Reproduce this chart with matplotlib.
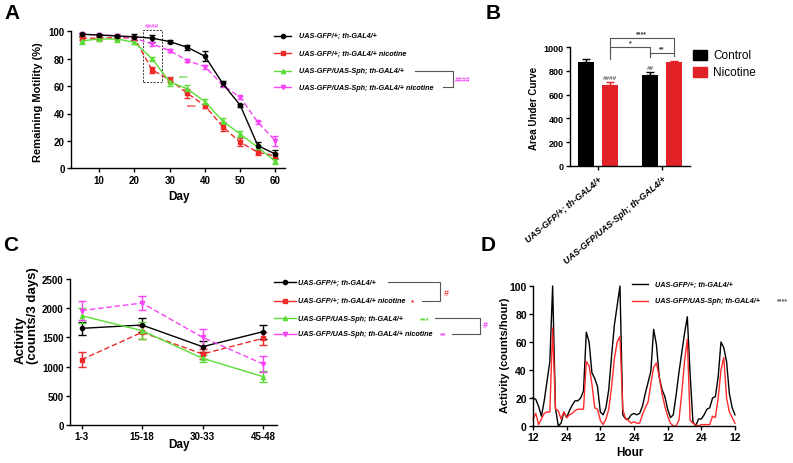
import numpy as np
import matplotlib
matplotlib.use('Agg')
import matplotlib.pyplot as plt
from matplotlib.lines import Line2D
from matplotlib.patches import Rectangle

plt.rcParams['font.family'] = ['Liberation Sans', 'DejaVu Sans']
plt.rcParams['font.weight'] = 'bold'
plt.rcParams['axes.labelweight'] = 'bold'

W, H = 793, 464

c_black = '#000000'
c_red = '#ee2a2a'
c_green = '#5cdc38'
c_mag = '#f545f5'
c_gray = '#555555'

g_ctrl = 'UAS-GFP/+; th-GAL4/+'
g_ctrl_nic = 'UAS-GFP/+; th-GAL4/+ nicotine'
g_sph = 'UAS-GFP/UAS-Sph; th-GAL4/+'
g_sph_nic = 'UAS-GFP/UAS-Sph; th-GAL4/+ nicotine'

# ---- A: remaining motility
days = [5, 10, 15, 20, 25, 30, 35, 40, 45, 50, 55, 60]
mot_ctrl = [97.8, 97.3, 96.6, 96.0, 95.0, 92.5, 88.3, 81.8, 62.0, 46.0, 16.5, 10.4]
mot_ctrl_err = [1.0, 1.0, 1.0, 2.0, 2.5, 1.0, 2.0, 3.5, 2.0, 1.0, 3.0, 3.0]
mot_nic = [95.0, 95.0, 95.4, 95.0, 71.8, 64.7, 54.7, 45.7, 30.4, 19.0, 11.7, 9.0]
mot_nic_err = [1.0, 1.0, 1.0, 1.0, 2.0, 2.0, 3.5, 1.5, 3.5, 3.0, 2.0, 2.0]
mot_sph = [93.0, 94.4, 94.4, 92.0, 80.0, 63.0, 58.0, 48.7, 34.5, 25.0, 15.3, 5.0]
mot_sph_err = [2.5, 1.5, 2.0, 1.5, 1.0, 3.0, 2.5, 2.0, 2.0, 2.5, 2.0, 2.0]
mot_sph_nic = [98.0, 97.3, 96.8, 95.0, 90.8, 85.9, 78.6, 74.2, 60.8, 51.8, 33.6, 20.0]
mot_sph_nic_err = [1.0, 1.0, 1.0, 1.0, 1.5, 1.0, 1.0, 1.5, 1.5, 1.0, 1.0, 3.5]

# ---- B: area under curve
auc_groups = [g_ctrl, g_sph]
auc_ctrl = [875, 765]
auc_ctrl_err = [25, 25]
auc_nic = [680, 870]
auc_nic_err = [30, 15]

# ---- C: activity per 3 days
day_bins = ['1-3', '15-18', '30-33', '45-48']
act3_ctrl = [1655, 1712, 1341, 1598]
act3_ctrl_err = [110, 120, 90, 120]
act3_nic = [1119, 1587, 1216, 1484]
act3_nic_err = [130, 110, 80, 110]
act3_sph = [1872, 1615, 1142, 828]
act3_sph_err = [130, 150, 60, 100]
act3_sph_nic = [1958, 2089, 1501, 1045]
act3_sph_nic_err = [160, 120, 140, 130]

# ---- D: hourly activity
hours = list(range(12, 85))
hour_ticks = [12, 24, 36, 48, 60, 72, 84]
hour_labels = ['12', '24', '12', '24', '12', '24', '12']
act_ctrl = [20, 19, 14, 7, 18, 32, 46, 100, 13, 0,
            2, 10, 6, 11, 15, 18, 18, 20, 25, 67,
            60, 38, 34, 28, 10, 8, 13, 26, 50, 72,
            86, 100, 8, 5, 5, 8, 9, 8, 9, 14,
            23, 31, 39, 69, 58, 35, 26, 21, 12, 6,
            8, 22, 38, 52, 66, 78, 37, 3, 0, 5,
            5, 8, 12, 13, 20, 21, 35, 60, 56, 46,
            23, 13, 8]
act_sph = [5, 9, 1, 5, 9, 10, 10, 70, 12, 11,
           5, 10, 6, 8, 9, 11, 12, 12, 12, 46,
           43, 30, 13, 12, 4, 1, 5, 12, 28, 48,
           60, 64, 12, 5, 4, 2, 3, 2, 2, 8,
           13, 17, 30, 42, 45, 35, 23, 14, 7, 2,
           0, 0, 4, 23, 46, 62, 4, 2, 1, 0,
           1, 1, 1, 1, 7, 6, 20, 40, 49, 20,
           10, 6, 2]


def fx(x):
    return x / W


def fy(y):
    return 1 - y / H


def add_axes_px(fig, left, top, right, bottom):
    return fig.add_axes([fx(left), fy(bottom), (right - left) / W, (bottom - top) / H])


def prism(ax, size=7):
    for s in ['top', 'right']:
        ax.spines[s].set_visible(False)
    for s in ['left', 'bottom']:
        ax.spines[s].set_linewidth(1.0)
    ax.tick_params(width=1.0, length=3, labelsize=size, pad=1.5)


def key_row(fig, x0, x1, y, color, marker, ls, label, tx, fs=5.2):
    yy = fy(y)
    fig.add_artist(Line2D([fx(x0), fx(x1)], [yy, yy], color=color, ls=ls, lw=1.0))
    if marker:
        fig.add_artist(Line2D([fx((x0 + x1) / 2)], [yy], color=color, marker=marker, ms=3, ls='none'))
    fig.text(fx(tx), yy, label, fontsize=fs, style='italic', weight='bold', va='center', ha='left')


def bracket(fig, xa, xb, xr, ya, yb, color=c_gray):
    fig.add_artist(Line2D([fx(xa), fx(xr), fx(xr), fx(xb)], [fy(ya), fy(ya), fy(yb), fy(yb)],
                          color=color, lw=0.8))


fig = plt.figure(figsize=(W / 100, H / 100), dpi=100)

series_a = [
    (mot_nic, mot_nic_err, c_red, 's', (0, (4, 2))),
    (mot_sph, mot_sph_err, c_green, '^', '-'),
    (mot_sph_nic, mot_sph_nic_err, c_mag, 'v', (0, (4, 2))),
    (mot_ctrl, mot_ctrl_err, c_black, 'o', '-'),
]

# ---------------- A
ax = add_axes_px(fig, 71, 32.3, 285, 169.3)
for vals, err, col, mk, ls in series_a:
    ax.errorbar(days, vals, yerr=err, color=col, marker=mk, ms=3, ls=ls, lw=1.0,
                elinewidth=1.0, capsize=2.5, capthick=1.0, clip_on=False)
ax.set_xlim(2, 62.7)
ax.set_ylim(0, 100)
ax.set_xticks([10, 20, 30, 40, 50, 60])
ax.set_yticks([0, 20, 40, 60, 80, 100])
prism(ax)
ax.add_patch(Rectangle((22.3, 63.2), 5.4, 38, fill=False, ls=(0, (2, 1.5)), lw=0.7,
                       ec='#333333', clip_on=False))
ax.text(25, 104, '####', color=c_mag, fontsize=4.5, ha='center', va='center', style='italic')
ax.text(34, 66.5, '****', color=c_green, fontsize=4.5, ha='center', va='center')
ax.text(36.3, 45.5, '****', color=c_red, fontsize=4.5, ha='center', va='center')
fig.text(fx(38), fy(102), 'Remaining Motility (%)', rotation=90, ha='center', va='center', fontsize=8)
fig.text(fx(179), fy(197), 'Day', ha='center', va='center', fontsize=8.5)

rows_a = [36.7, 54.3, 71.7, 88.3]
key_row(fig, 274, 291, rows_a[0], c_black, 'o', '-', g_ctrl, 299)
key_row(fig, 274, 291, rows_a[1], c_red, 's', '-', g_ctrl_nic, 299)
key_row(fig, 274, 291, rows_a[2], c_green, '^', '-', g_sph, 299)
key_row(fig, 274, 291, rows_a[3], c_mag, 'v', '-', g_sph_nic, 299)
bracket(fig, 415, 443, 453, rows_a[2], rows_a[3])
fig.text(fx(455), fy(80.7), '####', color=c_mag, fontsize=5, va='center', style='italic')

# ---------------- B
ax = add_axes_px(fig, 570, 48, 690, 167)
xg = np.arange(len(auc_groups))
bw = 0.25
off = 0.1875
ax.bar(xg - off, auc_ctrl, bw, color=c_black)
ax.bar(xg + off, auc_nic, bw, color='#e32228')
ax.errorbar(xg - off, auc_ctrl, yerr=[[0, 0], auc_ctrl_err], fmt='none', ecolor=c_black,
            elinewidth=1.0, capsize=3, capthick=1.0)
ax.errorbar(xg + off, auc_nic, yerr=[[0, 0], auc_nic_err], fmt='none', ecolor='#e32228',
            elinewidth=1.0, capsize=3, capthick=1.0)
ax.set_xlim(-0.44, 1.44)
ax.set_ylim(0, 1000)
ax.set_yticks(range(0, 1001, 200))
ax.set_xticks(xg)
ax.set_xticklabels(auc_groups, rotation=40, ha='right', va='top', rotation_mode='anchor',
                   style='italic', fontsize=6)
prism(ax, 6.5)
ax.tick_params(axis='x', pad=3)
ax.text(0 + off, 740, '####', fontsize=4.5, color=c_gray, ha='center', va='center', style='italic')
ax.text(1 - off, 830, '##', fontsize=4.5, color=c_gray, ha='center', va='center', style='italic')


def sig(ax, x0, x1, y, yl0, yl1, label):
    ax.plot([x0, x0, x1, x1], [yl0, y, y, yl1], color=c_gray, lw=0.8, clip_on=False)
    ax.text((x0 + x1) / 2, y + 8, label, fontsize=5, ha='center', va='bottom', color='#333333')


sig(ax, off, 1 + off, 1076, 960, 960, '****')
sig(ax, off, 1 - off, 1000, 900, 920, '*')
sig(ax, 1 - off, 1 + off, 950, 920, 925, '**')
fig.text(fx(534), fy(108), 'Area Under Curve', rotation=90, ha='center', va='center', fontsize=7)

fig.add_artist(Rectangle((fx(693), fy(61)), 14 / W, 10 / H, color=c_black))
fig.add_artist(Rectangle((fx(693), fy(78)), 14 / W, 10 / H, color='#e32228'))
fig.text(fx(713), fy(56), 'Control', fontsize=8.5, weight='normal', va='center')
fig.text(fx(713), fy(73), 'Nicotine', fontsize=8.5, weight='normal', va='center')

# ---------------- C
ax = add_axes_px(fig, 70, 280, 277, 426)
xc = np.arange(len(day_bins))
series_c = [
    (act3_ctrl, act3_ctrl_err, c_black, 'o', '-'),
    (act3_nic, act3_nic_err, c_red, 's', (0, (4, 2))),
    (act3_sph, act3_sph_err, c_green, '^', '-'),
    (act3_sph_nic, act3_sph_nic_err, c_mag, 'v', (0, (4, 2))),
]
for vals, err, col, mk, ls in series_c:
    ax.errorbar(xc, vals, yerr=err, color=col, marker=mk, ms=3, ls=ls, lw=1.0,
                elinewidth=1.0, capsize=3, capthick=1.0, clip_on=False)
ax.set_xlim(-0.19, 3.23)
ax.set_ylim(0, 2500)
ax.set_yticks(range(0, 2501, 500))
ax.set_xticks(xc)
ax.set_xticklabels(day_bins)
prism(ax)
fig.text(fx(27), fy(316), 'Activity\n(counts/3 days)', rotation=90, ha='center', va='center',
         fontsize=9.5, multialignment='left', linespacing=1.05)
fig.text(fx(179), fy(445), 'Day', ha='center', va='center', fontsize=8.5)

rows_c = [283.3, 301.7, 319.3, 335]
key_row(fig, 274, 296, rows_c[0], c_black, 'o', '-', g_ctrl, 298)
key_row(fig, 274, 296, rows_c[1], c_red, 's', '-', g_ctrl_nic, 298)
key_row(fig, 274, 296, rows_c[2], c_green, '^', '-', g_sph, 298)
key_row(fig, 274, 296, rows_c[3], c_mag, 'v', '-', g_sph_nic, 298)
fig.text(fx(411), fy(rows_c[1] + 1), '*', color=c_red, fontsize=6, va='center')
fig.text(fx(420), fy(rows_c[2] + 1), '***', color=c_green, fontsize=6, va='center')
fig.text(fx(440), fy(rows_c[3] + 1), '**', color=c_mag, fontsize=6, va='center')
bracket(fig, 388, 422, 440, rows_c[0], rows_c[1])
bracket(fig, 435, 452, 480, rows_c[2], rows_c[3])
fig.text(fx(444), fy(293), '#', color='#f05050', fontsize=6.5, va='center')
fig.text(fx(483), fy(326), '#', color=c_mag, fontsize=6.5, va='center')

# ---------------- D
ax = add_axes_px(fig, 533, 287, 735, 427)
ax.plot(hours, act_ctrl, color=c_black, lw=1.0, clip_on=False)
ax.plot(hours, act_sph, color='#ff2a2a', lw=1.0, clip_on=False)
ax.set_xlim(12, 84)
ax.set_ylim(0, 100)
ax.set_xticks(hour_ticks)
ax.set_xticklabels(hour_labels)
ax.set_yticks(range(0, 101, 20))
prism(ax, 7.5)
fig.text(fx(505), fy(355), 'Activity (counts/hour)', rotation=90, ha='center', va='center', fontsize=8)
fig.text(fx(630), fy(453), 'Hour', ha='center', va='center', fontsize=8.5)
key_row(fig, 632, 648, 285, c_black, None, '-', g_ctrl, 655)
key_row(fig, 632, 648, 301.7, '#ff2a2a', None, '-', g_sph, 655)
fig.text(fx(777), fy(302), '****', color=c_gray, fontsize=5, va='center')

# panel letters
fig.text(fx(4), fy(4), 'A', fontsize=15, va='top', ha='left')
fig.text(fx(486), fy(4), 'B', fontsize=15, va='top', ha='left')
fig.text(fx(3), fy(236), 'C', fontsize=15, va='top', ha='left')
fig.text(fx(481), fy(236), 'D', fontsize=15, va='top', ha='left')

fig.savefig('out.png', dpi=100)
